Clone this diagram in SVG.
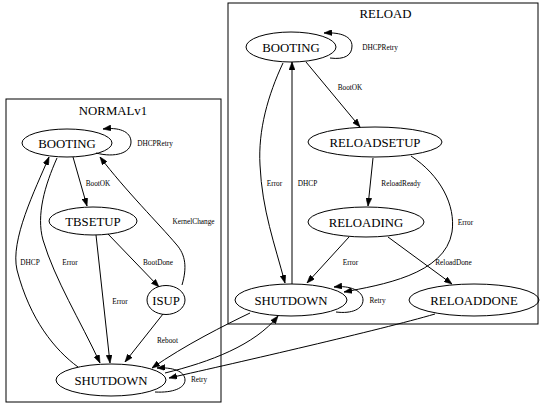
<svg xmlns="http://www.w3.org/2000/svg" width="541" height="405" viewBox="0 0 541 405">
<style>
text{font-family:"Liberation Serif","Times New Roman",serif;fill:#000}
.n{font-size:12.8px;text-anchor:middle}
.e{font-size:7.3px;text-anchor:middle}
ellipse{fill:none;stroke:#000;stroke-width:1}
.c{fill:none;stroke:#000;stroke-width:1}
.ed path{fill:none;stroke:#000;stroke-width:1;marker-end:url(#ah)}
</style>
<defs>
<marker id="ah" markerUnits="userSpaceOnUse" markerWidth="8" markerHeight="6" refX="8" refY="3" orient="auto">
<path d="M0,0 L8,3 L0,6 z" fill="#000" stroke="#000" stroke-width="0.5"/>
</marker>
</defs>
<rect width="541" height="405" fill="#fff"/>
<g id="cluster_normal">
<rect class="c" x="6" y="99" width="215" height="303"/>
<text class="n" x="113" y="114.5">NORMALv1</text>
</g>
<g id="cluster_reload">
<rect class="c" x="228" y="3" width="310" height="321"/>
<text class="n" x="385.5" y="18">RELOAD</text>
</g>
<g id="n_booting"><ellipse cx="67" cy="143" rx="45" ry="14"/><text class="n" x="67" y="147.5">BOOTING</text></g>
<g id="n_tbsetup"><ellipse cx="93" cy="221" rx="44" ry="14"/><text class="n" x="93" y="225.5">TBSETUP</text></g>
<g id="n_isup"><ellipse cx="166" cy="300" rx="19" ry="14.5"/><text class="n" x="166" y="305">ISUP</text></g>
<g id="n_shutdown"><ellipse cx="111" cy="380" rx="55" ry="16"/><text class="n" x="111" y="384.5">SHUTDOWN</text></g>
<g id="r_booting"><ellipse cx="291" cy="47" rx="45" ry="15"/><text class="n" x="291" y="51.5">BOOTING</text></g>
<g id="r_reloadsetup"><ellipse cx="375" cy="142" rx="67" ry="15"/><text class="n" x="375" y="146.5">RELOADSETUP</text></g>
<g id="r_reloading"><ellipse cx="366" cy="222" rx="58" ry="15"/><text class="n" x="366" y="226.5">RELOADING</text></g>
<g id="r_shutdown"><ellipse cx="291" cy="300" rx="56" ry="16"/><text class="n" x="291" y="304.5">SHUTDOWN</text></g>
<g id="r_reloaddone"><ellipse cx="474" cy="300" rx="65" ry="16"/><text class="n" x="474" y="304.5">RELOADDONE</text></g>
<g id="edges" class="ed">
<path d="M96,153 C115,158 131,153 131,142 C131,131 118,127 103,129"/>
<text class="e" x="155" y="145.5">DHCPRetry</text>
<path d="M73,157 L87,206"/>
<text class="e" x="98" y="186">BootOK</text>
<path d="M182,285 C187,268 186,255 176,244 C160,225 125,190 100,157"/>
<text class="e" x="193.5" y="223.5">KernelChange</text>
<path d="M108,234 L159,287"/>
<text class="e" x="158" y="264.5">BootDone</text>
<path d="M96,235 L110,363"/>
<text class="e" x="120" y="303.5">Error</text>
<path d="M163,314 L125,362"/>
<text class="e" x="167.5" y="342.5">Reboot</text>
<path d="M57,158 C45,185 36,215 43,240 C55,280 80,320 100,363"/>
<text class="e" x="70" y="264.5">Error</text>
<path d="M78,367 C55,350 30,320 17,270 C10,240 35,190 49,157"/>
<text class="e" x="30" y="264.5">DHCP</text>
<path d="M155,392 C173,393 185,388 185,380 C185,371 172,367 157,368"/>
<text class="e" x="199" y="382">Retry</text>
<path d="M250,313 C225,325 185,345 152,368"/>
<path d="M165,373 C210,362 255,345 278,316"/>
<path d="M435,314 C380,330 240,362 169,378"/>
<path d="M330,58 C345,60 352,55 352,46 C352,37 342,32 324,33"/>
<text class="e" x="380" y="49.5">DHCPRetry</text>
<path d="M306,62 L360,127"/>
<text class="e" x="350" y="89.5">BootOK</text>
<path d="M373,158 L368,206"/>
<text class="e" x="401" y="185.5">ReloadReady</text>
<path d="M411,156 C440,175 456,205 452,232 C445,275 380,285 344,292"/>
<text class="e" x="465.5" y="224.5">Error</text>
<path d="M349,237 L307,283"/>
<text class="e" x="350.5" y="264.5">Error</text>
<path d="M388,237 L452,284"/>
<text class="e" x="453.5" y="264.5">ReloadDone</text>
<path d="M283,63 C268,95 258,130 260,165 C262,210 275,245 285,283"/>
<text class="e" x="274.5" y="185.5">Error</text>
<path d="M292,284 L292,62"/>
<text class="e" x="307.5" y="185.5">DHCP</text>
<path d="M336,312 C352,314 363,309 363,300 C363,291 350,285 334,287"/>
<text class="e" x="377.5" y="302.5">Retry</text>
</g>
</svg>
